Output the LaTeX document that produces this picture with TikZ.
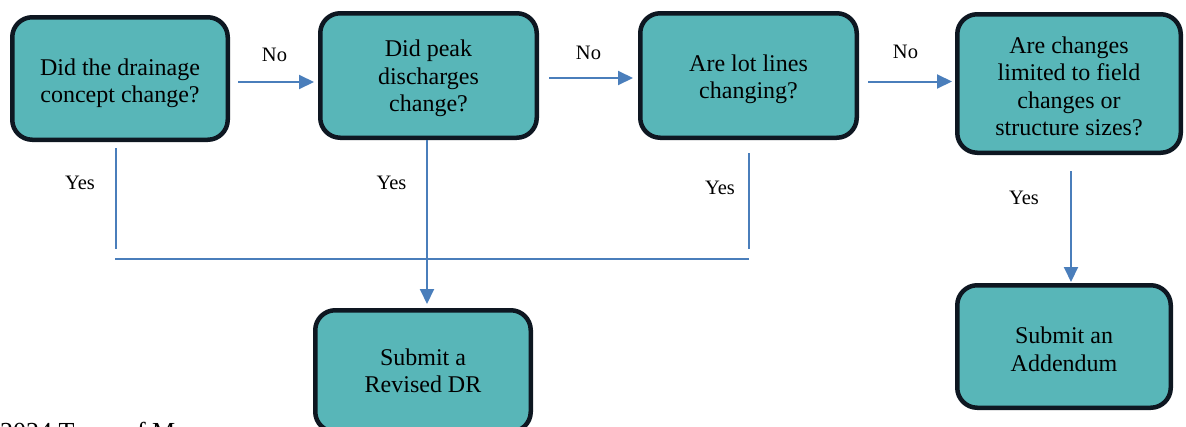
\documentclass[tikz,border=0pt]{standalone}
\usepackage{fontspec}
\setmainfont{Liberation Serif}
\usetikzlibrary{arrows.meta}
\definecolor{boxfill}{HTML}{58B6B8}
\definecolor{boxline}{HTML}{0E1721}
\definecolor{conn}{HTML}{4A7EBB}
\newcommand\mystrut[1]{\rule{0pt}{#1}}
\tikzset{
  qbox/.style={draw=boxline, line width=4.5pt, fill=boxfill, rounded corners=20pt,
    align=center, inner sep=0pt, font=\fontsize{24}{27.5}\selectfont},
  arr/.style={draw=conn, line width=2pt, -{Triangle[length=15pt,width=14pt]}},
  ln/.style={draw=conn, line width=2pt},
  lbl/.style={inner sep=0pt, font=\fontsize{20.5}{24}\selectfont}
}
\begin{document}
\begin{tikzpicture}[x=1pt,y=-1pt]
\useasboundingbox (0,0) rectangle (1186,426);
% boxes
\node[qbox, minimum width=215.5pt, minimum height=122.5pt] (b1) at (120,78.5) {\mystrut{26.5pt}Did the drainage\\concept change?};
\node[qbox, minimum width=216.5pt, minimum height=124.5pt] (b2) at (428.5,75.5) {\mystrut{22.5pt}Did peak\\discharges\\change?};
\node[qbox, minimum width=216.5pt, minimum height=124.5pt] (b3) at (748.5,75.5) {\mystrut{24.5pt}Are lot lines\\changing?};
\node[qbox, minimum width=223.5pt, minimum height=138.5pt] (b4) at (1069,83.5) {\mystrut{22.5pt}Are changes\\limited to field\\changes or\\structure sizes?};
\node[qbox, minimum width=215.5pt, minimum height=121.5pt] (b5) at (423,371) {Submit a\\Revised DR};
\node[qbox, minimum width=213.5pt, minimum height=122.5pt] (b6) at (1064,346.5) {\mystrut{22.5pt}Submit an\\Addendum};
% No arrows
\draw[arr] ([xshift=8pt]b1.east |- 0,82) -- ([xshift=-4pt]b2.west |- 0,82);
\draw[arr] ([xshift=10pt]b2.east |- 0,78) -- ([xshift=-5pt]b3.west |- 0,78);
\draw[arr] ([xshift=9pt]b3.east |- 0,81.5) -- ([xshift=-3pt]b4.west |- 0,81.5);
\node[lbl] (n1) at (274.5,55) {No};
\node[lbl] (n2) at (588.5,53) {No};
\node[lbl] (n3) at (905.5,52) {No};
% Yes branches
\coordinate (y1a) at (116,148);
\coordinate (y1b) at (116,249);
\coordinate (y3a) at (749,153);
\coordinate (y3b) at (749,249);
\coordinate (hl) at (115,259);
\coordinate (hr) at (749,259);
\draw[ln] (y1a) -- (y1b);
\draw[ln] (y3a) -- (y3b);
\draw[ln] (hl) -- (hr);
\draw[arr] ([xshift=-1.5pt]b2.south) -- ([xshift=4pt,yshift=4pt]b5.north);
\draw[arr] ([xshift=2pt,yshift=-16pt]b4.south) -- ([xshift=7pt,yshift=1pt]b6.north);
\node[lbl] (t1) at (80,183) {Yes};
\node[lbl] (t2) at (391.5,183) {Yes};
\node[lbl] (t3) at (720,188) {Yes};
\node[lbl] (t4) at (1024,198) {Yes};
% footer (cut off at the bottom edge, as in the reference)
\node[anchor=base west, inner sep=0pt, font=\fontsize{26}{30}\selectfont] (foot) at (0,440) {2024 Town of M};
\end{tikzpicture}
\end{document}
